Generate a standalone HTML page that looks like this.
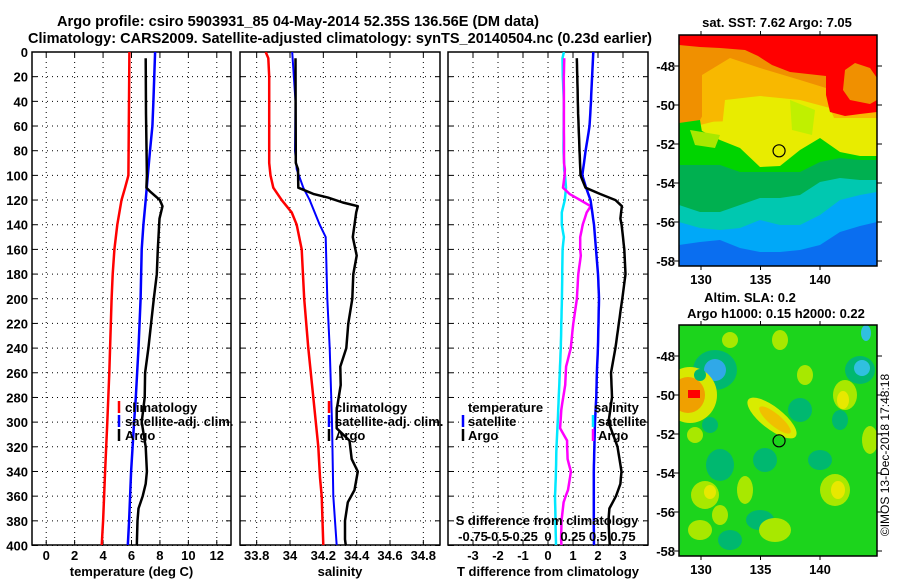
<!DOCTYPE html>
<html><head><meta charset="utf-8">
<style>
html,body{margin:0;padding:0;background:#fff;}
svg{display:block;font-family:"Liberation Sans",sans-serif;font-weight:bold;}
</style></head>
<body>
<svg id="fig" width="900" height="580" viewBox="0 0 900 580" xmlns="http://www.w3.org/2000/svg">
<defs>
<clipPath id="c1"><rect x="32" y="52" width="199" height="493"/></clipPath>
<clipPath id="c2"><rect x="240" y="52" width="200" height="493"/></clipPath>
<clipPath id="c3"><rect x="448" y="52" width="200" height="493"/></clipPath>
<clipPath id="cm1"><rect x="679" y="35" width="198" height="231"/></clipPath>
<clipPath id="cm2"><rect x="679" y="325" width="198" height="231"/></clipPath>
</defs>
<text x="298" y="26" font-size="15" text-anchor="middle" textLength="482" lengthAdjust="spacingAndGlyphs">Argo profile: csiro 5903931_85 04-May-2014 52.35S 136.56E (DM data)</text>
<text x="340" y="43" font-size="15" text-anchor="middle" textLength="624" lengthAdjust="spacingAndGlyphs">Climatology: CARS2009. Satellite-adjusted climatology: synTS_20140504.nc (0.23d earlier)</text>

<g id="maps">
<g clip-path="url(#cm1)" id="sstmap"></g>
<rect x="679" y="35" width="198" height="231" fill="none" stroke="#000" stroke-width="1.5"/>
<text x="777" y="27" font-size="13" text-anchor="middle">sat. SST: 7.62 Argo: 7.05</text>
<g clip-path="url(#cm2)" id="slamap"></g>
<rect x="679" y="325" width="198" height="231" fill="none" stroke="#000" stroke-width="1.5"/>
<text x="750" y="302" font-size="13" text-anchor="middle">Altim. SLA: 0.2</text>
<text x="776" y="318" font-size="13" text-anchor="middle">Argo h1000: 0.15 h2000: 0.22</text>
<text x="0" y="0" font-size="12" font-weight="normal" text-anchor="middle" transform="translate(889,455) rotate(-90)">©IMOS 13-Dec-2018 17:48:18</text>
</g>
<g id="axes"></g>
</svg>
<script>
// ---- profile data ----
const climTDepth = [0,100,110,120,140,160,180,200,260,300,340,380,400];
const climT      = [5.85,5.78,5.55,5.3,5.0,4.8,4.68,4.6,4.44,4.3,4.14,4.0,3.9];
const satTDepth  = [0,40,60,80,100,120,140,160,200,240,280,300,340,380,400];
const satT       = [7.66,7.54,7.47,7.3,7.15,7.0,6.84,6.72,6.64,6.49,6.3,6.18,5.97,5.83,5.74];
const argoTDepth = [5,50,100,110,113,120,125,135,160,180,200,220,240,260,280,300,320,340,350,360,370,380,400];
const argoT      = [7.0,7.02,7.08,7.05,7.3,8.0,8.18,7.97,7.85,7.78,7.57,7.38,7.19,6.96,6.93,6.72,7.0,7.08,7.0,6.79,6.49,6.42,6.37];
const climSDepth = [0,5,20,90,100,110,120,130,140,160,200,240,280,320,345,360,400];
const climS      = [33.854,33.87,33.875,33.875,33.883,33.9,33.95,34.01,34.04,34.07,34.085,34.11,34.14,34.17,34.18,34.19,34.2];
const satSDepth  = [0,40,80,95,110,120,140,150,200,240,300,360,400];
const satS       = [34.013,34.033,34.03,34.04,34.08,34.118,34.178,34.214,34.224,34.238,34.252,34.26,34.28];
const argoSDepth = [5,90,95,110,115,118,122,125,130,150,165,180,200,220,240,255,270,290,305,315,330,340,355,365,380,395,400];
const argoS      = [34.033,34.035,34.048,34.05,34.14,34.228,34.317,34.407,34.397,34.377,34.4,34.38,34.374,34.35,34.338,34.302,34.304,34.28,34.28,34.357,34.37,34.407,34.387,34.347,34.33,34.33,34.335];
const depthTicks = [0,20,40,60,80,100,120,140,160,180,200,220,240,260,280,300,320,340,360,380,400];
const tTicks = [0,2,4,6,8,10,12];
const sTicks = [33.8,34,34.2,34.4,34.6,34.8];
const sTickLabels = ["33.8","34","34.2","34.4","34.6","34.8"];
const dTTicks = [-3,-2,-1,0,1,2,3];
const dSTicks = [-0.75,-0.5,-0.25,0,0.25,0.5,0.75];
const dSTickLabels = ["-0.75","-0.5","-0.25","0","0.25","0.5","0.75"];

const NS="http://www.w3.org/2000/svg";
const axes=document.getElementById('axes');
function mk(tag,attrs,parent){const e=document.createElementNS(NS,tag);for(const k in attrs)e.setAttribute(k,attrs[k]);(parent||axes).appendChild(e);return e;}
const Y=d=>52+d*493.5/400;
const X1=t=>32+(t+1)*199/14;
const X2=s=>240+(s-33.7)*200/1.2;
const X3=t=>448+(t+4)*200/8;
const X3s=s=>448+(s+1)*100;
function interp(ds,vs,d){if(d<ds[0]||d>ds[ds.length-1])return null;for(let i=0;i<ds.length-1;i++){if(d>=ds[i]&&d<=ds[i+1]){const f=(d-ds[i])/((ds[i+1]-ds[i])||1);return vs[i]+f*(vs[i+1]-vs[i]);}}return vs[vs.length-1];}

function panel(name,x0,x1,xt,xs,xl,title,clip){
  const g=mk('g',{});
  
  
  depthTicks.forEach(d=>{
    const y=Y(d);
    const gl=mk('line',{x1:x0,x2:x1,y1:y,y2:y,stroke:'#000','stroke-width':1,'stroke-dasharray':'1,4'},g);
    
    
    mk('line',{x1:x0,x2:x0+5,y1:y,y2:y,stroke:'#000','stroke-width':1},g);
    mk('line',{x1:x1-5,x2:x1,y1:y,y2:y,stroke:'#000','stroke-width':1},g);
  });
  xt.forEach((v,i)=>{
    const x=xs(v);
    const gl=mk('line',{x1:x,x2:x,y1:52,y2:545,stroke:'#000','stroke-width':1,'stroke-dasharray':'1,4'},g);
    
    
    mk('line',{x1:x,x2:x,y1:52,y2:57,stroke:'#000'},g);
    mk('line',{x1:x,x2:x,y1:540,y2:545,stroke:'#000'},g);
    const t=mk('text',{x:x,y:560,'font-size':13,'text-anchor':'middle'},g);
    t.textContent=xl[i];
    
    
  });
  const fr=mk('rect',{x:x0,y:52,width:x1-x0,height:493,fill:'none',stroke:'#000','stroke-width':1.5},g);
  
  
  const at=mk('text',{x:(x0+x1)/2,y:576,'font-size':13,'text-anchor':'middle'},g);
  at.textContent=title;
  
  
  return g;
}
function line(g,name,ds,vs,xs,color,w,clip){
  const pts=ds.map((d,i)=>xs(vs[i]).toFixed(1)+','+Y(d).toFixed(1)).join(' ');
  const p=mk('polyline',{points:pts,fill:'none',stroke:color,'stroke-width':w,'clip-path':'url(#'+clip+')','stroke-linejoin':'round'},g);
  
  
}
function legend(g,x,y,color,label,textX){
  const m=mk('line',{x1:x,x2:x,y1:y-6,y2:y+6,stroke:color,'stroke-width':2.5},g);
  
  
  const t=mk('text',{x:textX,y:y+5,'font-size':13},g);
  t.textContent=label;
  
  
}

// y tick labels
depthTicks.forEach(d=>{
  const t=mk('text',{x:28,y:Y(d)+5,'font-size':13,'text-anchor':'end'});
  t.textContent=String(d);
  
  
});

// Panel 1
const g1=panel('temperature-panel',32,231,tTicks,X1,tTicks.map(String),'temperature (deg C)');
line(g1,'clim-temperature-line',climTDepth,climT,X1,'#ff0000',2.5,'c1');
line(g1,'sat-temperature-line',satTDepth,satT,X1,'#0000ff',2.5,'c1');
line(g1,'argo-temperature-line',argoTDepth,argoT,X1,'#000',2.5,'c1');
legend(g1,119,407,'#ff0000','climatology',125);
legend(g1,119,421,'#0000ff','satellite-adj. clim.',125);
legend(g1,119,435,'#000','Argo',125);

// Panel 2
const g2=panel('salinity-panel',240,440,sTicks,X2,sTickLabels,'salinity');
line(g2,'clim-salinity-line',climSDepth,climS,X2,'#ff0000',2.5,'c2');
line(g2,'sat-salinity-line',satSDepth,satS,X2,'#0000ff',2,'c2');
line(g2,'argo-salinity-line',argoSDepth,argoS,X2,'#000',2.5,'c2');
legend(g2,329,407,'#ff0000','climatology',335);
legend(g2,329,421,'#0000ff','satellite-adj. clim.',335);
legend(g2,329,435,'#000','Argo',335);

// Panel 3 (differences computed from profiles)
const g3=panel('difference-panel',448,648,dTTicks,X3,dTTicks.map(String),'T difference from climatology');
function diff(dsA,vsA,dsB,vsB){const ds=[],vs=[];for(let d=0;d<=400;d+=5){const a=interp(dsA,vsA,d),b=interp(dsB,vsB,d);if(a!==null&&b!==null){ds.push(d);vs.push(a-b);}}return [ds,vs];}
let r;
r=diff(satSDepth,satS,climSDepth,climS); line(g3,'sat-salinity-diff-line',r[0],r[1],X3s,'#00e8ff',2.5,'c3');
r=diff(argoSDepth,argoS,climSDepth,climS); line(g3,'argo-salinity-diff-line',r[0],r[1],X3s,'#ff00ff',2.5,'c3');
r=diff(satTDepth,satT,climTDepth,climT); line(g3,'sat-temperature-diff-line',r[0],r[1],X3,'#0000ff',2.5,'c3');
r=diff(argoTDepth,argoT,climTDepth,climT); line(g3,'argo-temperature-diff-line',r[0],r[1],X3,'#000',2.5,'c3');
(function(){
  const t=mk('text',{x:468,y:412,'font-size':13},g3); t.textContent='temperature';
  
  
  const s=mk('text',{x:594,y:412,'font-size':13},g3); s.textContent='salinity';
  
  
})();
legend(g3,463,421,'#0000ff','satellite',468);
legend(g3,463,435,'#000','Argo',468);
legend(g3,593,421,'#00e8ff','satellite',598);
legend(g3,593,435,'#ff00ff','Argo',598);
(function(){
  const t=mk('text',{x:547,y:525,'font-size':13,'text-anchor':'middle'},g3); t.textContent='S difference from climatology';
  
  
  dSTicks.forEach((v,i)=>{
    const l=mk('text',{x:X3s(v),y:541,'font-size':13,'text-anchor':'middle'},g3); l.textContent=dSTickLabels[i];
    
    
  });
})();

// ---- maps (background imagery) ----
const mapLon=[130,135,140];
const mapLat=[-48,-50,-52,-54,-56,-58];
const argoLon=136.56, argoLat=-52.35;
const MX=lon=>701+(lon-130)*11.9;
const MY=(lat,off)=>66+off+(-48-lat)*19.5;
const sst=document.getElementById('sstmap');
const sla=document.getElementById('slamap');
const bx=[679,700,720,740,760,780,800,820,840,860,877];
function band(parent,color,bnd){
  let d='M679,35 '+bx.map((x,i)=>'L'+x+','+bnd[i]).join(' ')+' L877,35 Z';
  const p=mk('path',{d:d,fill:color},parent);
  
  
}
mk('rect',{x:679,y:35,width:198,height:231,fill:'#0a6ef0'},sst);
band(sst,'#00a8f8',[245,242,240,248,252,252,250,245,232,226,222]);
band(sst,'#00c8b0',[222,228,230,228,220,225,225,215,200,195,192]);
band(sst,'#00b050',[205,212,212,205,198,198,195,182,178,180,180]);
band(sst,'#00d400',[165,165,165,172,172,172,172,162,158,160,160]);
band(sst,'#e8ec00',[126,130,140,148,167,166,150,138,152,156,156]);
band(sst,'#f8b800',[124,125,120,118,125,130,120,118,118,118,118]);
band(sst,'#f09000',[124,120,85,75,85,90,95,88,110,110,110]);
[['#f8b800','M702,75 L730,58 L760,68 L800,80 L826,88 L830,118 L702,122 Z'],
 ['#e8ec00','M725,100 L760,96 L800,100 L830,108 L838,128 L790,140 L760,135 L722,128 Z'],
 ['#c0f000','M790,100 L815,110 L812,135 L792,130 Z'],
 ['#ff0000','M679,35 H877 V78 L870,68 L855,63 L845,70 L843,90 L850,100 L870,104 L877,100 V112 L860,114 L845,116 L830,112 L826,95 L826,76 L790,72 L772,65 L758,56 L745,50 L720,48 L700,47 L679,45 Z'],
 ['#00d400','M679,123 L700,120 L705,150 L690,160 L679,158 Z'],
 ['#a8e800','M690,130 L720,135 L715,148 L695,145 Z']].forEach(a=>{
  const p=mk('path',{d:a[1],fill:a[0]},sst);
  
  
});
mk('rect',{x:679,y:325,width:198,height:231,fill:'#1cd41c'},sla);
const blobs=[
 ['#00b870',715,370,22,20],['#30a8e8',715,370,11,11],
 ['#d8e800',690,395,27,28],['#f0a000',688,395,17,18],
 ['#00b870',700,375,6,6],['#00b870',710,425,8,8],['#00b870',720,465,14,16],['#00b870',760,520,14,10],
 ['#00b870',800,410,12,12],['#00b870',765,460,12,12],['#00b870',820,460,12,10],['#00b870',860,370,15,14],
 ['#30c0e0',862,368,8,8],['#30c0e0',866,333,5,8],['#00b870',840,420,8,10],['#00b870',730,540,12,10],
 ['#a8e800',705,495,14,14],['#a8e800',745,490,8,14],['#a8e800',700,530,12,10],['#a8e800',775,530,16,12],
 ['#a8e800',835,490,15,16],['#a8e800',845,395,12,15],['#a8e800',805,375,8,10],['#a8e800',870,440,8,14],
 ['#a8e800',730,340,8,8],['#a8e800',780,340,8,10],['#a8e800',695,435,8,8],['#a8e800',720,515,8,10],
 ['#e8e800',843,400,6,9],['#e8e800',838,490,7,9],['#e8e800',710,492,6,7]];
blobs.forEach(b=>{
  const e=mk('ellipse',{cx:b[1],cy:b[2],rx:b[3],ry:b[4],fill:b[0]},sla);
  
  
});
(function(){
  const e1=mk('ellipse',{cx:772,cy:418,rx:30,ry:11,fill:'#d8ec00',transform:'rotate(38 772 418)'},sla);
  
  
  const e2=mk('ellipse',{cx:775,cy:420,rx:20,ry:6,fill:'#f0c000',transform:'rotate(40 775 420)'},sla);
  
  
  const r1=mk('rect',{x:688,y:390,width:12,height:8,fill:'#ff0000'},sla);
  
  
})();
[0,290].forEach(off=>{
  const top=35+off, bot=266+off;
  mapLon.forEach(lon=>{
    const x=MX(lon);
    mk('line',{x1:x,x2:x,y1:top-4,y2:top,stroke:'#000'});
    mk('line',{x1:x,x2:x,y1:bot,y2:bot+4,stroke:'#000'});
    const t=mk('text',{x:x,y:bot+18,'font-size':13,'text-anchor':'middle'});
    t.textContent=String(lon);
    
    
  });
  mapLat.forEach(lat=>{
    const y=MY(lat,off);
    mk('line',{x1:877,x2:882,y1:y,y2:y,stroke:'#000'});
    mk('line',{x1:674,x2:679,y1:y,y2:y,stroke:'#000'});
    const t=mk('text',{x:675,y:y+5,'font-size':13,'text-anchor':'end'});
    t.textContent=String(lat);
    
    
  });
  const c=mk('circle',{cx:MX(argoLon),cy:MY(argoLat,off),r:6,fill:'none',stroke:'#000','stroke-width':1.2});
  
  
});
</script>
</body></html>
